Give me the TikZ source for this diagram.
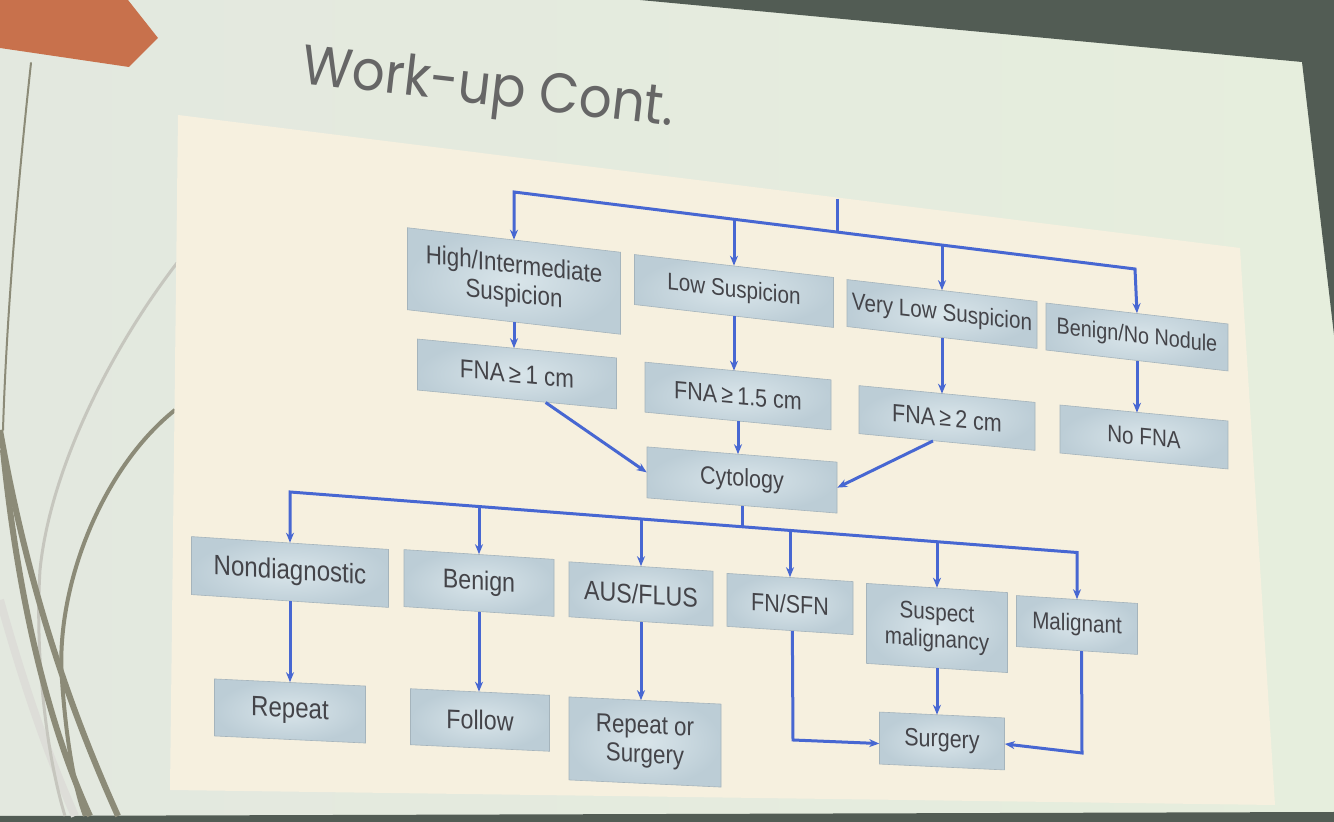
\documentclass[tikz,border=0pt]{standalone}
\usepackage{fontspec}
\setmainfont{Liberation Sans}
\newfontfamily\boxfont[FakeStretch=0.86]{Liberation Sans}
\newfontfamily\titlefont[FakeStretch=0.92]{Poppins}
\usetikzlibrary{arrows.meta}
\definecolor{slideL}{HTML}{E3E8DF}
\definecolor{slideM}{HTML}{EFECF3}
\definecolor{slideR}{HTML}{E6EEDD}
\definecolor{outside}{HTML}{525C54}
\definecolor{cream}{HTML}{F6F0DF}
\definecolor{orangetab}{HTML}{C8714C}
\definecolor{curvedark}{HTML}{8C8B78}
\definecolor{curvelight}{HTML}{C6C6BE}
\definecolor{flow}{HTML}{4767D2}
\definecolor{boxin}{HTML}{D9E5EA}
\definecolor{boxout}{HTML}{BCCDD6}
\definecolor{boxtext}{HTML}{444449}
\definecolor{titlegray}{HTML}{666666}
\tikzset{
  fbox/.style={shade, inner color=boxin, outer color=boxout, draw=boxout!88!black,
    line width=0.3pt, text=boxtext, align=center, inner sep=1pt},
  fa/.style={font=\boxfont\fontsize{11.5}{13}\selectfont},
  fb/.style={font=\boxfont\fontsize{12}{13.5}\selectfont},
  fc/.style={font=\boxfont\fontsize{12.5}{14}\selectfont},
  fd/.style={font=\boxfont\fontsize{13}{14.5}\selectfont},
  fe/.style={font=\boxfont\fontsize{13.5}{15}\selectfont},
  ff/.style={font=\boxfont\fontsize{14}{15.5}\selectfont},
  rowa/.style={fbox, yslant=-0.115},
  rowb/.style={fbox, yslant=-0.095},
  rowc/.style={fbox, yslant=-0.08},
  rowd/.style={fbox, yslant=-0.065},
  rowe/.style={fbox, yslant=-0.047},
  ln/.style={draw=flow, line width=1.5pt},
}
\begin{document}
\begin{tikzpicture}[x=0.5pt, y=-0.5pt, >={Stealth[length=5pt,width=4pt]}]
\useasboundingbox (0,0) rectangle (1334,822);
% slide background
\shade[left color=slideL, middle color=slideM, right color=slideR] (0,0) rectangle (1334,822);
% outside the screen
\fill[outside] (640,0) -- (1334,0) -- (1334,335) -- (1302,62) -- cycle;
\fill[outside] (0,816) -- (1334,812) -- (1334,822) -- (0,822) -- cycle;
% orange tab
\fill[orangetab] (0,0) -- (128,0) -- (158,38) -- (129,67) -- (0,48) -- cycle;
% decorative curves
\draw[curvedark, line width=1pt, line cap=round] (31,63) .. controls (16,200) and (6,330) .. (3,430);
\draw[curvelight!60, line width=4pt] (0,600) .. controls (25,690) and (50,760) .. (75,816);
\draw[curvelight, line width=1.5pt] (177,263) .. controls (110,350) and (50,470) .. (40,570) .. controls (35,650) and (45,750) .. (65,816);
\draw[curvedark, line width=3pt] (0,430) .. controls (30,600) and (75,720) .. (118,816);
\draw[curvedark, line width=3pt] (3,450) .. controls (20,620) and (55,740) .. (90,816);
\draw[curvedark, line width=2pt] (175,410) .. controls (100,470) and (55,590) .. (62,680) .. controls (66,740) and (75,790) .. (85,816);
\draw[curvedark!70, line width=3pt] (181,216) -- (181,271);
% cream panel
\fill[cream] (178,115) -- (1240,248) -- (1275,805) -- (170,790) -- cycle;
% title
\node[font=\titlefont\fontsize{28}{30}\selectfont, text=titlegray, rotate=-6.6, anchor=base west, inner sep=0pt] (title) at (300,83) {Work-up Cont.};

% row 1
\node[rowa, fd, minimum width=106.5pt, minimum height=41pt] (hi) at (514,281) {High/Intermediate\\Suspicion};
\node[rowa, fb, minimum width=99.5pt, minimum height=25pt] (low) at (734,291) {Low Suspicion};
\node[rowa, fb, minimum width=95pt, minimum height=23.5pt] (vlow) at (942,314) {Very Low Suspicion};
\node[rowa, fa, minimum width=91pt, minimum height=23.5pt] (bnn) at (1137,337) {Benign/No Nodule};
% row 2
\node[rowb, fd, minimum width=99.5pt, minimum height=25.5pt] (fna1) at (517,374) {FNA\,≥\,1 cm};
\node[rowb, fc, minimum width=93pt, minimum height=25pt] (fna15) at (738,396) {FNA\,≥\,1.5 cm};
\node[rowb, fc, minimum width=88pt, minimum height=24pt] (fna2) at (947,418) {FNA\,≥\,2 cm};
\node[rowb, fb, minimum width=84pt, minimum height=24pt] (nofna) at (1144,437) {No FNA};
% cytology
\node[rowc, fc, minimum width=95pt, minimum height=25.5pt] (cyt) at (742,480) {Cytology};
% row 3
\node[rowd, ff, minimum width=98.5pt, minimum height=29pt] (nond) at (290,572) {Nondiagnostic};
\node[rowd, fe, minimum width=75pt, minimum height=28.5pt] (ben) at (479,583) {Benign};
\node[rowd, fe, minimum width=72pt, minimum height=27.5pt] (aus) at (641,594) {AUS/FLUS};
\node[rowd, fc, minimum width=63pt, minimum height=26.5pt] (fn) at (790,604) {FN/SFN};
\node[rowd, fb, minimum width=70.5pt, minimum height=40pt] (susp) at (937,628) {Suspect\\malignancy};
\node[rowd, fb, minimum width=60.5pt, minimum height=25.5pt] (mal) at (1077,625) {Malignant};
% row 4
\node[rowe, ff, minimum width=75.5pt, minimum height=28.5pt] (rep) at (290,711) {Repeat};
\node[rowe, fe, minimum width=69.5pt, minimum height=28pt] (fol) at (480,720) {Follow};
\node[rowe, fd, minimum width=76pt, minimum height=41.5pt] (ros) at (645,742) {Repeat or\\Surgery};
\node[rowe, fc, minimum width=62.5pt, minimum height=26pt] (surg) at (942,741) {Surgery};

% top bar
\coordinate (top) at (837,199);
\coordinate (ta) at (514,192);
\coordinate (tb) at (734,219.5);
\coordinate (tj) at (837,232);
\coordinate (tc) at (942,245);
\coordinate (td) at (1135,269);
\draw[ln, <->] (hi.north) -- (ta) -- (td) -- (bnn.north);
\draw[ln] (top) -- (tj);
\draw[ln, ->] (tb) -- (low.north);
\draw[ln, ->] (tc) -- (vlow.north);
% row1 -> row2
\draw[ln, ->] (hi.south) -- (hi.south |- fna1.north);
\draw[ln, ->] (low.south) -- (low.south |- fna15.north);
\draw[ln, ->] (vlow.south) -- (vlow.south |- fna2.north);
\draw[ln, ->] (bnn.south) -- (bnn.south |- nofna.north);
% row2 -> cytology
\draw[ln, ->] (fna1.-42) -- (cyt.west);
\draw[ln, ->] (fna15.south) -- (fna15.south |- cyt.north);
\draw[ln, ->] (fna2.-120) -- (cyt.east);
% bottom bar
\coordinate (ca) at (290,492);
\coordinate (cb) at (479,506.5);
\coordinate (cc) at (641,519);
\coordinate (cj) at (742,527);
\coordinate (cd) at (790,530.5);
\coordinate (ce) at (937,542);
\coordinate (cf) at (1077,552.5);
\draw[ln, <->] (nond.north) -- (ca) -- (cf) -- (mal.north);
\draw[ln] (cyt.south) -- (cj);
\draw[ln, ->] (cb) -- (ben.north);
\draw[ln, ->] (cc) -- (aus.north);
\draw[ln, ->] (cd) -- (fn.north);
\draw[ln, ->] (ce) -- (susp.north);
% row3 -> row4
\draw[ln, ->] (nond.south) -- (nond.south |- rep.north);
\draw[ln, ->] (ben.south) -- (ben.south |- fol.north);
\draw[ln, ->] (aus.south) -- (aus.south |- ros.north);
\draw[ln, ->] (susp.south) -- (susp.south |- surg.north);
\coordinate (k1) at (793,740);
\coordinate (k2) at (1082,753);
\draw[ln, ->] (fn.-85) -- (k1) -- (surg.185);
\draw[ln, ->] (mal.-80) -- (k2) -- (surg.east);
\end{tikzpicture}
\end{document}
